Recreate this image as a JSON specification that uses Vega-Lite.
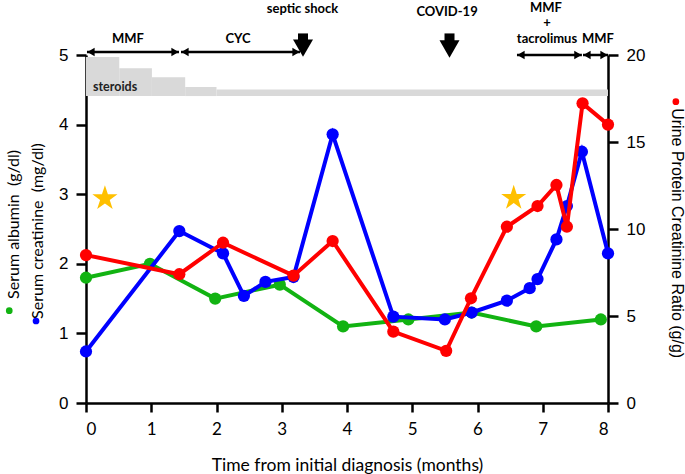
{
  "$schema": "https://vega.github.io/schema/vega-lite/v6.json",
  "width": 522,
  "height": 348,
  "autosize": {"type": "none"},
  "padding": {"left": 86, "top": 55, "right": 77, "bottom": 71},
  "background": "white",
  "config": {
    "view": {"stroke": null},
    "axis": {
      "grid": false,
      "domainColor": "black",
      "domainWidth": 2.5,
      "tickColor": "black",
      "tickWidth": 2.5,
      "tickSize": 9,
      "labelColor": "black",
      "labelFont": "Liberation Sans",
      "labelFontSize": 17,
      "labelPadding": 7,
      "titleColor": "black"
    }
  },
  "datasets": {
    "alb": [
      {"m": 0, "v": 1.8}, {"m": 0.98, "v": 2.0}, {"m": 1.98, "v": 1.5}, {"m": 2.97, "v": 1.7},
      {"m": 3.94, "v": 1.1}, {"m": 4.94, "v": 1.2}, {"m": 5.91, "v": 1.3}, {"m": 6.9, "v": 1.1}, {"m": 7.89, "v": 1.2}
    ],
    "cre": [
      {"m": 0, "v": 0.74}, {"m": 1.43, "v": 2.47}, {"m": 2.1, "v": 2.15}, {"m": 2.42, "v": 1.54},
      {"m": 2.75, "v": 1.74}, {"m": 3.18, "v": 1.81}, {"m": 3.78, "v": 3.86}, {"m": 4.71, "v": 1.24},
      {"m": 5.5, "v": 1.2}, {"m": 5.91, "v": 1.3}, {"m": 6.45, "v": 1.47}, {"m": 6.8, "v": 1.65},
      {"m": 6.92, "v": 1.78}, {"m": 7.21, "v": 2.35}, {"m": 7.37, "v": 2.83}, {"m": 7.6, "v": 3.61}, {"m": 8.0, "v": 2.15}
    ],
    "upcr": [
      {"m": 0, "v": 8.5}, {"m": 1.43, "v": 7.4}, {"m": 2.1, "v": 9.21}, {"m": 3.18, "v": 7.32},
      {"m": 3.78, "v": 9.31}, {"m": 4.71, "v": 4.1}, {"m": 5.52, "v": 3.0}, {"m": 5.9, "v": 6.02},
      {"m": 6.45, "v": 10.13}, {"m": 6.92, "v": 11.32}, {"m": 7.21, "v": 12.53}, {"m": 7.37, "v": 10.13},
      {"m": 7.61, "v": 17.22}, {"m": 8.0, "v": 16.0}
    ],
    "steroids": [
      {"a": 0, "b": 0.51, "top": 4.97, "bot": 4.41},
      {"a": 0.51, "b": 1.01, "top": 4.81, "bot": 4.41},
      {"a": 1.01, "b": 1.52, "top": 4.68, "bot": 4.41},
      {"a": 1.52, "b": 2.0, "top": 4.54, "bot": 4.41},
      {"a": 2.0, "b": 8.0, "top": 4.505, "bot": 4.41}
    ],
    "stars": [{"m": 0.29, "v": 2.94}, {"m": 6.555, "v": 2.945}],
    "ann": [
      {"t": "septic shock", "m": 3.318, "v": 5.657},
      {"t": "COVID-19", "m": 5.533, "v": 5.618},
      {"t": "MMF", "m": 7.05, "v": 5.675},
      {"t": "+", "m": 7.065, "v": 5.455},
      {"t": "tacrolimus", "m": 7.065, "v": 5.23},
      {"t": "MMF", "m": 7.847, "v": 5.23},
      {"t": "MMF", "m": 0.644, "v": 5.23},
      {"t": "CYC", "m": 2.33, "v": 5.23}
    ],
    "spans": [
      {"s": 0.015, "e": 1.425, "v": 5.043},
      {"s": 1.456, "e": 3.28, "v": 5.043},
      {"s": 6.605, "e": 7.6, "v": 5.0},
      {"s": 7.617, "e": 8.0, "v": 5.0}
    ],
    "events": [
      {"m": 3.326, "v1": 5.31, "v2": 5.13, "h": 5.1},
      {"m": 5.571, "v1": 5.31, "v2": 5.13, "h": 5.086}
    ],
    "lefttitles": [
      {"t": "Serum albumin\u00a0\u00a0(g/dl)", "m": -1.104, "v": 2.565},
      {"t": "Serum creatinine\u00a0\u00a0(mg/dl)", "m": -0.743, "v": 2.471}
    ],
    "albdot": [{"m": -1.176, "v": 1.326}],
    "credot": [{"m": -0.766, "v": 1.178}],
    "righttitle": [{"t": "Urine Protein Creatinine Ratio (g/g)", "m": 9.057, "v": 2.44}],
    "rightdot": [{"m": 9.04, "v": 4.329}],
    "sterlabel": [{"t": "steroids", "m": 0.107, "v": 4.535}]
  },
  "layer": [
    {
      "layer": [
        {
          "data": {"name": "steroids"},
          "mark": {"type": "rect", "color": "#d9d9d9"},
          "encoding": {
            "x": {"field": "a", "type": "quantitative", "scale": {"domain": [0, 8], "nice": false},
              "axis": {"values": [0, 1, 2, 3, 4, 5, 6, 7, 8], "format": "d", "title": "Time from initial diagnosis (months)",
                "labelFont": "Lato", "labelFontSize": 17, "labelPadding": 9, "titleFont": "Lato", "titleFontSize": 17.5,
                "titleFontWeight": "normal", "titlePadding": 19}},
            "x2": {"field": "b"},
            "y": {"field": "top", "type": "quantitative", "scale": {"domain": [0, 5], "nice": false},
              "axis": {"values": [0, 1, 2, 3, 4, 5], "format": "d", "title": "", "tickSize": 10, "labelPadding": 8, "labelFont": "Liberation Sans"}},
            "y2": {"field": "bot"}
          }
        },
        {
          "data": {"name": "sterlabel"},
          "mark": {"type": "text", "align": "left", "baseline": "middle", "font": "Lato", "fontSize": 12.5, "fontWeight": "bold", "color": "#222"},
          "encoding": {
            "x": {"field": "m", "type": "quantitative", "scale": {"domain": [0, 8], "nice": false}},
            "y": {"field": "v", "type": "quantitative", "scale": {"domain": [0, 5], "nice": false}},
            "text": {"field": "t"}
          }
        },
        {
          "data": {"name": "alb"},
          "mark": {"type": "line", "color": "#12b312", "strokeWidth": 4, "point": {"filled": true, "size": 150, "color": "#12b312"}},
          "encoding": {
            "x": {"field": "m", "type": "quantitative", "scale": {"domain": [0, 8], "nice": false}},
            "y": {"field": "v", "type": "quantitative", "scale": {"domain": [0, 5], "nice": false}}
          }
        },
        {
          "data": {"name": "cre"},
          "mark": {"type": "line", "color": "#0000ff", "strokeWidth": 4, "point": {"filled": true, "size": 150, "color": "#0000ff"}},
          "encoding": {
            "x": {"field": "m", "type": "quantitative", "scale": {"domain": [0, 8], "nice": false}},
            "y": {"field": "v", "type": "quantitative", "scale": {"domain": [0, 5], "nice": false}}
          }
        },
        {
          "data": {"name": "stars"},
          "mark": {"type": "point", "filled": true, "size": 700, "opacity": 1, "color": "#ffc000",
            "shape": "M0,-1L0.2245,-0.309L0.951,-0.309L0.3633,0.118L0.5878,0.809L0,0.382L-0.5878,0.809L-0.3633,0.118L-0.951,-0.309L-0.2245,-0.309Z"},
          "encoding": {
            "x": {"field": "m", "type": "quantitative", "scale": {"domain": [0, 8], "nice": false}},
            "y": {"field": "v", "type": "quantitative", "scale": {"domain": [0, 5], "nice": false}}
          }
        },
        {
          "data": {"name": "ann"},
          "mark": {"type": "text", "align": "center", "baseline": "middle", "font": "Lato", "fontSize": 13, "fontWeight": "bold", "color": "black"},
          "encoding": {
            "x": {"field": "m", "type": "quantitative", "scale": {"domain": [0, 8], "nice": false}},
            "y": {"field": "v", "type": "quantitative", "scale": {"domain": [0, 5], "nice": false}},
            "text": {"field": "t"}
          }
        },
        {
          "data": {"name": "spans"},
          "mark": {"type": "rule", "color": "black", "strokeWidth": 2.5},
          "encoding": {
            "x": {"field": "s", "type": "quantitative", "scale": {"domain": [0, 8], "nice": false}},
            "x2": {"field": "e"},
            "y": {"field": "v", "type": "quantitative", "scale": {"domain": [0, 5], "nice": false}}
          }
        },
        {
          "data": {"name": "spans"},
          "mark": {"type": "point", "shape": "triangle-left", "filled": true, "opacity": 1, "size": 70, "color": "black", "xOffset": 4},
          "encoding": {
            "x": {"field": "s", "type": "quantitative", "scale": {"domain": [0, 8], "nice": false}},
            "y": {"field": "v", "type": "quantitative", "scale": {"domain": [0, 5], "nice": false}}
          }
        },
        {
          "data": {"name": "spans"},
          "mark": {"type": "point", "shape": "triangle-right", "filled": true, "opacity": 1, "size": 70, "color": "black", "xOffset": -4},
          "encoding": {
            "x": {"field": "e", "type": "quantitative", "scale": {"domain": [0, 8], "nice": false}},
            "y": {"field": "v", "type": "quantitative", "scale": {"domain": [0, 5], "nice": false}}
          }
        },
        {
          "data": {"name": "events"},
          "mark": {"type": "rule", "color": "black", "strokeWidth": 10, "strokeCap": "butt"},
          "encoding": {
            "x": {"field": "m", "type": "quantitative", "scale": {"domain": [0, 8], "nice": false}},
            "y": {"field": "v1", "type": "quantitative", "scale": {"domain": [0, 5], "nice": false}},
            "y2": {"field": "v2"}
          }
        },
        {
          "data": {"name": "events"},
          "mark": {"type": "point", "shape": "triangle-down", "filled": true, "opacity": 1, "size": 400, "color": "black"},
          "encoding": {
            "x": {"field": "m", "type": "quantitative", "scale": {"domain": [0, 8], "nice": false}},
            "y": {"field": "h", "type": "quantitative", "scale": {"domain": [0, 5], "nice": false}}
          }
        },
        {
          "data": {"name": "lefttitles"},
          "mark": {"type": "text", "angle": 270, "align": "center", "baseline": "middle", "font": "Lato", "fontSize": 16, "color": "black"},
          "encoding": {
            "x": {"field": "m", "type": "quantitative", "scale": {"domain": [0, 8], "nice": false}},
            "y": {"field": "v", "type": "quantitative", "scale": {"domain": [0, 5], "nice": false}},
            "text": {"field": "t"}
          }
        },
        {
          "data": {"name": "albdot"},
          "mark": {"type": "point", "filled": true, "opacity": 1, "size": 45, "color": "#12b312"},
          "encoding": {
            "x": {"field": "m", "type": "quantitative", "scale": {"domain": [0, 8], "nice": false}},
            "y": {"field": "v", "type": "quantitative", "scale": {"domain": [0, 5], "nice": false}}
          }
        },
        {
          "data": {"name": "credot"},
          "mark": {"type": "point", "filled": true, "opacity": 1, "size": 45, "color": "#0000ff"},
          "encoding": {
            "x": {"field": "m", "type": "quantitative", "scale": {"domain": [0, 8], "nice": false}},
            "y": {"field": "v", "type": "quantitative", "scale": {"domain": [0, 5], "nice": false}}
          }
        },
        {
          "data": {"name": "righttitle"},
          "mark": {"type": "text", "angle": 90, "align": "center", "baseline": "middle", "font": "Liberation Sans", "fontSize": 16, "color": "black"},
          "encoding": {
            "x": {"field": "m", "type": "quantitative", "scale": {"domain": [0, 8], "nice": false}},
            "y": {"field": "v", "type": "quantitative", "scale": {"domain": [0, 5], "nice": false}},
            "text": {"field": "t"}
          }
        },
        {
          "data": {"name": "rightdot"},
          "mark": {"type": "point", "filled": true, "opacity": 1, "size": 45, "color": "#ff0000"},
          "encoding": {
            "x": {"field": "m", "type": "quantitative", "scale": {"domain": [0, 8], "nice": false}},
            "y": {"field": "v", "type": "quantitative", "scale": {"domain": [0, 5], "nice": false}}
          }
        }
      ]
    },
    {
      "layer": [
        {
          "data": {"name": "upcr"},
          "mark": {"type": "line", "color": "#ff0000", "strokeWidth": 4, "point": {"filled": true, "size": 150, "color": "#ff0000"}},
          "encoding": {
            "x": {"field": "m", "type": "quantitative", "scale": {"domain": [0, 8], "nice": false}},
            "y": {"field": "v", "type": "quantitative", "scale": {"domain": [0, 20], "nice": false},
              "axis": {"orient": "right", "values": [0, 5, 10, 15, 20], "format": "d", "title": null, "tickSize": 10, "labelPadding": 8}}
          }
        }
      ]
    }
  ],
  "resolve": {"scale": {"y": "independent"}}
}
